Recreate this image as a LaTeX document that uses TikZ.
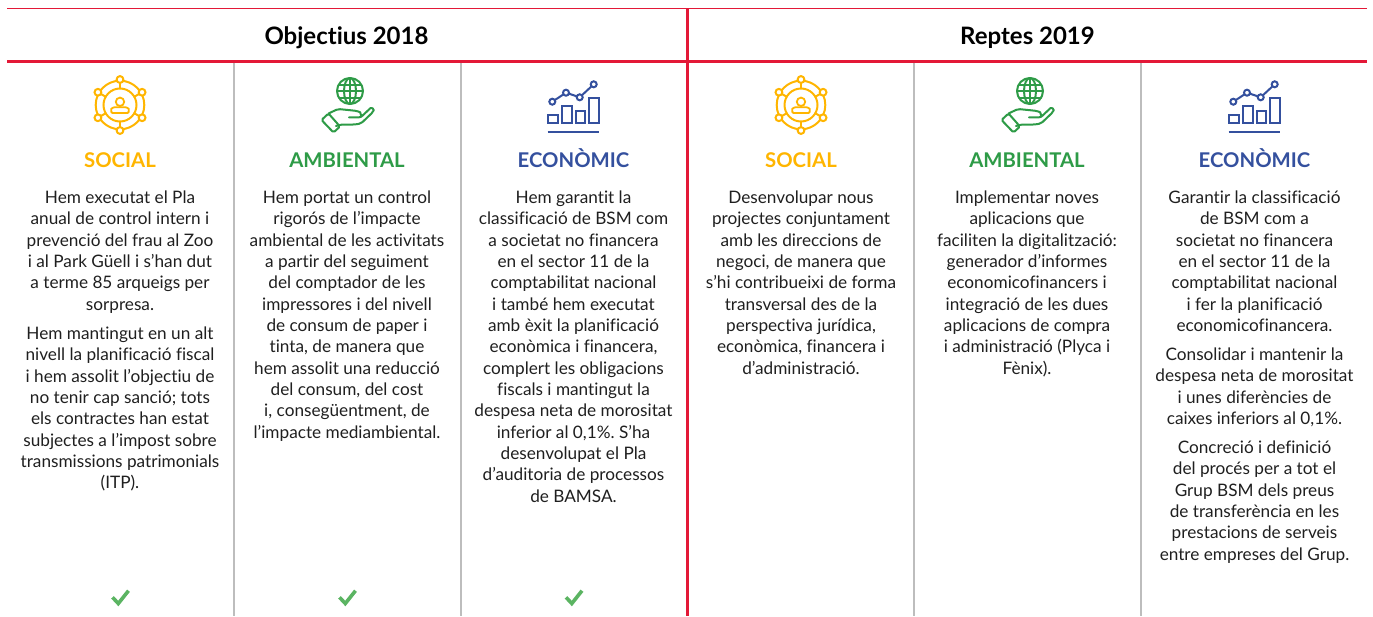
\documentclass[tikz,border=0pt]{standalone}
\usepackage{fontspec}
\setmainfont[Ligatures=CommonOff]{Lato}
\frenchspacing
\definecolor{cred}{HTML}{E31837}
\definecolor{cyel}{HTML}{FFB500}
\definecolor{cgrn}{HTML}{2E9B47}
\definecolor{cblu}{HTML}{34509E}
\definecolor{cgry}{HTML}{BDBDBD}
\definecolor{cchk}{HTML}{5BB462}
\tikzset{
 x=1pt,y=-1pt,
 para/.style={anchor=north,align=center,inner sep=0pt,text=black!88,font=\fontsize{17.2}{21.35}\selectfont\frenchspacing},
 head/.style={anchor=base,inner sep=0pt,font=\fontsize{20.3}{24}\selectfont\bfseries},
 title/.style={anchor=base,inner sep=0pt,text=black,font=\fontsize{24}{28}\selectfont\bfseries},
 thinred/.style={draw=cred,line width=1.1pt},
 thickred/.style={draw=cred,line width=2.6pt},
 sep/.style={draw=cgry,line width=1.3pt},
 chk/.style={draw=cchk,line width=3.6pt},
 social/.pic={
  \begin{scope}[draw=cyel,line width=2pt]
   \draw (0,0) circle[radius=24.3];
   \draw (0,0) circle[radius=16.5];
   \foreach \a in {90,30,-30,-90,-150,150}{
     \draw (\a:16.5) -- (\a:25);
     \draw[fill=white] (\a:25.5) circle[radius=3.4];
   }
   \draw[line width=1.8pt] (0,-3.2) circle[radius=4.2];
   \draw[line width=1.8pt,rounded corners=1.2pt] (-8.8,7.9) -- (-8.8,5.2) .. controls (-8.8,3.2) and (-6,2.2) .. (-4,2.2) -- (4,2.2) .. controls (6,2.2) and (8.8,3.2) .. (8.8,5.2) -- (8.8,7.9) -- cycle;
  \end{scope}
 },
 globehand/.pic={
  \begin{scope}[draw=cgrn,line width=2pt,line join=round,line cap=round]
   \draw (3,-14) circle[radius=13];
   \draw (3,-14) ellipse[x radius=6,y radius=13];
   \draw (3,-27) -- (3,-1);
   \draw (-10,-14) -- (16,-14);
   \draw (-8,-20.5) -- (14,-20.5);
   \draw (-8,-7.5) -- (14,-7.5);
   \draw[rounded corners=1.5pt] (-25.5,15) -- (-18.5,8.5) -- (-7,21.5) -- (-13.5,27.5) -- cycle;
   \draw[rounded corners=2pt] (-18.5,8.5) -- (-9,4) -- (6,5.5) .. controls (10,6) and (13,7) .. (14,9) .. controls (14.5,12) and (12,12.3) .. (10,12.3) -- (2,12.3);
   \draw[rounded corners=2pt] (14,12) -- (22,4.5) .. controls (24,2.5) and (27.5,3.5) .. (26,7) -- (14,18.5) -- (8,19.5) -- (-6,19.5) -- (-11,21);
  \end{scope}
 },
 chart/.pic={
  \begin{scope}[draw=cblu,line width=1.7pt]
   \draw (-25.2,10) rectangle (-15.8,18.3);
   \draw (-11.5,1) rectangle (-1.8,18.3);
   \draw (2.2,5.7) rectangle (11.5,18.3);
   \draw (15.8,-7) rectangle (25.2,18.3);
   \draw[line width=2.2pt] (-25.8,26.7) -- (25.5,26.7);
   \draw[line width=2pt] (-21.2,-3.3) -- (-7.5,-12.3) -- (6.2,-7.7) -- (20.2,-20.7);
   \foreach \p in {(-21.2,-3.3),(-7.5,-12.3),(6.2,-7.7),(20.2,-20.7)}
     \draw[fill=white,line width=2pt] \p circle[radius=3];
  \end{scope}
 }
}
\begin{document}
\begin{tikzpicture}
\useasboundingbox (0,0) rectangle (1373,616);
\coordinate (tl) at (7,8.5); \coordinate (tr) at (1367,8.5);
\coordinate (ml) at (7,61.5); \coordinate (mr) at (1367,61.5);
\coordinate (vt) at (687.5,8.5); \coordinate (vb) at (687.5,616);
\foreach \n/\x in {a/234,b/461,c/914,d/1141}{
  \coordinate (\n t) at (\x,61.5); \coordinate (\n b) at (\x,616);
  \draw[sep] (\n t) -- (\n b);
}
\draw[thinred] (tl) -- (tr);
\draw[thickred] (ml) -- (mr);
\draw[thickred] (vt) -- (vb);

\node[title] (t1) at (346.5,44) {Objectius 2018};
\node[title] (t2) at (1027.5,44) {Reptes 2019};

\pic at (120,105) {social};
\pic at (347,105) {globehand};
\pic at (573.5,105) {chart};
\pic at (801,105) {social};
\pic at (1027,105) {globehand};
\pic at (1254.5,105) {chart};

\node[head,text=cyel] (h1) at (120,167) {SOCIAL};
\node[head,text=cgrn] (h2) at (347,167) {AMBIENTAL};
\node[head,text=cblu] (h3) at (573.5,167) {ECONÒMIC};
\node[head,text=cyel] (h4) at (801,167) {SOCIAL};
\node[head,text=cgrn] (h5) at (1027,167) {AMBIENTAL};
\node[head,text=cblu] (h6) at (1254.5,167) {ECONÒMIC};

\node[para] (p1a) at (120,190.5) {Hem executat el Pla\\anual de control intern i\\prevenció del frau al Zoo\\i al Park Güell i s’han dut\\a terme 85 arqueigs per\\sorpresa.};
\node[para] (p1b) at (120,326.5) {Hem mantingut en un alt\\nivell la planificació fiscal\\i hem assolit l’objectiu de\\no tenir cap sanció; tots\\els contractes han estat\\subjectes a l’impost sobre\\transmissions patrimonials\\(ITP).};
\node[para] (p2a) at (347,190.5) {Hem portat un control\\rigorós de l’impacte\\ambiental de les activitats\\a partir del seguiment\\del comptador de les\\impressores i del nivell\\de consum de paper i\\tinta, de manera que\\hem assolit una reducció\\del consum, del cost\\i, consegüentment, de\\l’impacte mediambiental.};
\node[para] (p3a) at (573.5,190.5) {Hem garantit la\\classificació de BSM com\\a societat no financera\\en el sector 11 de la\\comptabilitat nacional\\i també hem executat\\amb èxit la planificació\\econòmica i financera,\\complert les obligacions\\fiscals i mantingut la\\despesa neta de morositat\\inferior al 0,1\%. S’ha\\desenvolupat el Pla\\d’auditoria de processos\\de BAMSA.};
\node[para] (p4a) at (801,190.5) {Desenvolupar nous\\projectes conjuntament\\amb les direccions de\\negoci, de manera que\\s’hi contribueixi de forma\\transversal des de la\\perspectiva jurídica,\\econòmica, financera i\\d’administració.};
\node[para] (p5a) at (1027,190.5) {Implementar noves\\aplicacions que\\faciliten la digitalització:\\generador d’informes\\economicofinancers i\\integració de les dues\\aplicacions de compra\\i administració (Plyca i\\Fènix).};
\node[para] (p6a) at (1254.5,190.5) {Garantir la classificació\\de BSM com a\\societat no financera\\en el sector 11 de la\\comptabilitat nacional\\i fer la planificació\\economicofinancera.};
\node[para] (p6b) at (1254.5,347.5) {Consolidar i mantenir la\\despesa neta de morositat\\i unes diferències de\\caixes inferiors al 0,1\%.};
\node[para] (p6c) at (1254.5,440.5) {Concreció i definició\\del procés per a tot el\\Grup BSM dels preus\\de transferència en les\\prestacions de serveis\\entre empreses del Grup.};

\foreach \x in {120,347,573.5}
  \draw[chk] (\x-7.5,597.3) -- (\x-1.7,603.5) -- (\x+8.5,590.7);
\end{tikzpicture}
\end{document}
